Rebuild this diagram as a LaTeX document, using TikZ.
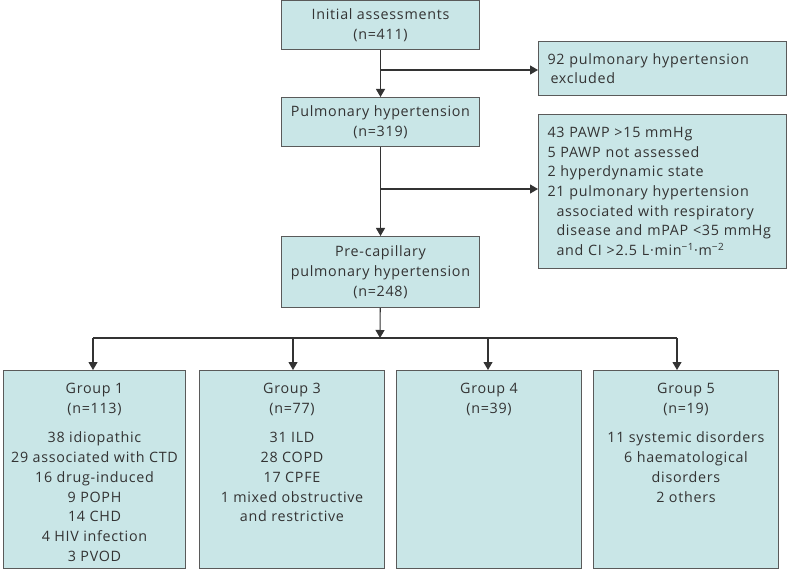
\documentclass[tikz,border=0pt]{standalone}
\usepackage{fontspec}
\setmainfont{Open Sans}[LetterSpace=5]
\usetikzlibrary{arrows.meta}
\definecolor{boxfill}{HTML}{C9E6E7}
\definecolor{boxline}{HTML}{5A5A5A}
\definecolor{arr}{HTML}{333333}
\definecolor{txtc}{HTML}{333333}
\newcommand{\mn}{\char"2212\relax}
\begin{document}
\begin{tikzpicture}[x=1pt,y=-1pt,
  box/.style={draw=boxline, fill=boxfill, line width=1pt, anchor=north west,
    font=\fontsize{14.3}{19.7}\selectfont, text=txtc},
  txt/.style={font=\fontsize{14.3}{19.7}\selectfont, text=txtc, inner sep=0pt, align=center, anchor=north},
  conn/.style={draw=arr, line width=1.1pt, -{Triangle[length=8pt,width=9pt]}},
  bus/.style={draw=arr, line width=1.1pt}]
\path[use as bounding box] (0,0) rectangle (788,575);
% top column
\node[box, minimum width=198, minimum height=49, align=center, inner sep=0pt] (A) at (281,0) {Initial assessments\\(n=411)};
\node[box, minimum width=198, minimum height=49, align=center, inner sep=0pt] (C) at (281,97) {Pulmonary hypertension\\(n=319)};
\node[box, minimum width=198, minimum height=71, align=center, inner sep=0pt] (E) at (281,236) {Pre-capillary\\pulmonary hypertension\\(n=248)};
% right boxes
\node[box, text width=230, inner xsep=9, inner ysep=0pt, minimum height=54, align=left] (B) at (538,41)
  {92 pulmonary hypertension\\\hspace*{3pt}excluded};
\node[box, text width=230, inner xsep=9, inner ysep=0pt, minimum height=154, align=left] (D) at (538,114)
  {43 PAWP >15 mmHg\\
   5 PAWP not assessed\\
   2 hyperdynamic state\\
   21 pulmonary hypertension\\
   \hspace*{9pt}associated with respiratory\\
   \hspace*{9pt}disease and mPAP <35 mmHg\\
   \hspace*{9pt}and CI >2.5 L·min\textsuperscript{\mn 1}·m\textsuperscript{\mn 2}};
% bottom boxes
\node[box, minimum width=182, minimum height=198, inner sep=0pt] (G1) at (3,370) {};
\node[box, minimum width=185, minimum height=198, inner sep=0pt] (G3) at (199,370) {};
\node[box, minimum width=185, minimum height=198, inner sep=0pt] (G4) at (396,370) {};
\node[box, minimum width=185, minimum height=198, inner sep=0pt] (G5) at (593,370) {};
\node[txt] (T1) at ([yshift=-13]G1.north) {Group 1\\(n=113)\\[10pt]38 idiopathic\\29 associated with CTD\\16 drug-induced\\9 POPH\\14 CHD\\4 HIV infection\\3 PVOD};
\node[txt] (T3) at ([yshift=-13]G3.north) {Group 3\\(n=77)\\[10pt]31 ILD\\28 COPD\\17 CPFE\\1 mixed obstructive\\and restrictive};
\node[txt] (T4) at ([yshift=-13]G4.north) {Group 4\\(n=39)};
\node[txt] (T5) at ([yshift=-13]G5.north) {Group 5\\(n=19)\\[10pt]11 systemic disorders\\6 haematological\\disorders\\2 others};
% connectors
\draw[conn] (A) -- (C);
\coordinate (b1) at (380,70);
\draw[conn] (b1) -- (b1 -| B.west);
\draw[conn] (C) -- (E);
\coordinate (b2) at (380,189);
\draw[conn] (b2) -- (b2 -| D.west);
\coordinate (busc) at (380,338);
\draw[conn] (E) -- (busc);
\coordinate (d1) at (93,338);
\coordinate (d3) at (293,338);
\coordinate (d4) at (488,338);
\coordinate (d5) at (677,338);
\draw[bus] (d1) -- (d5);
\draw[conn] (d1) -- (d1 |- G1.north);
\draw[conn] (d3) -- (d3 |- G3.north);
\draw[conn] (d4) -- (d4 |- G4.north);
\draw[conn] (d5) -- (d5 |- G5.north);
\end{tikzpicture}
\end{document}
